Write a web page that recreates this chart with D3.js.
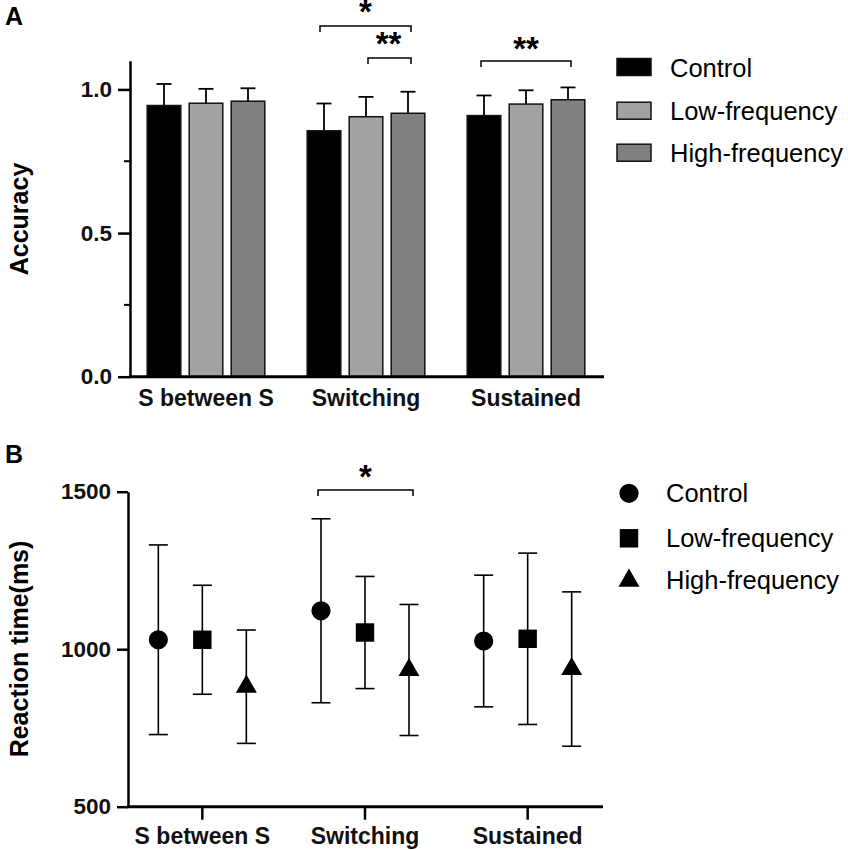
<!DOCTYPE html>
<html>
<head>
<meta charset="utf-8">
<script src="https://cdn.jsdelivr.net/npm/d3@7"></script>
<style>
  body { margin: 0; background: #fff; }
  text { font-family: Arial, "Liberation Sans", sans-serif; }
</style>
</head>
<body>
<svg id="chart"></svg>
<script>
var width = 848;
var height = 850;

var categories = ["S between S", "Switching", "Sustained"];
var groups = ["Control", "Low-frequency", "High-frequency"];

// panel A: accuracy (mean, upper SD)
var accControl = [0.944, 0.856, 0.909];
var accLow = [0.952, 0.905, 0.949];
var accHigh = [0.959, 0.917, 0.964];
var accControlSd = [0.075, 0.095, 0.070];
var accLowSd = [0.050, 0.069, 0.048];
var accHighSd = [0.045, 0.075, 0.043];
var accTicks = [0, 0.5, 1.0];
var accMinorTicks = [0.25, 0.75];

// panel B: reaction time (mean, SD)
var rtControl = [1030, 1122, 1026];
var rtLow = [1030, 1053, 1033];
var rtHigh = [881, 934, 937];
var rtControlSd = [301, 292, 209];
var rtLowSd = [173, 178, 272];
var rtHighSd = [180, 208, 245];
var rtTicks = [500, 1000, 1500];

var barColors = ["#000000", "#a2a2a5", "#808080"];
var markerTypes = [d3.symbolCircle, d3.symbolSquare, d3.symbolTriangle];

var svg = d3.select("#chart")
    .attr("width", width)
    .attr("height", height)
    .attr("xmlns", "http://www.w3.org/2000/svg");

// ---------- panel A ----------
var accMeans = [accControl, accLow, accHigh];
var accSds = [accControlSd, accLowSd, accHighSd];
var barData = [];
groups.forEach(function (g, gi) {
    categories.forEach(function (c, ci) {
        barData.push({cat: c, group: g, gi: gi, mean: accMeans[gi][ci], sd: accSds[gi][ci]});
    });
});

var xA = d3.scaleBand().domain(categories).range([126, 606]);
var xSubA = d3.scaleBand().domain(groups).range([-58.8, 58.8]).paddingInner(0.2);
var yA = d3.scaleLinear().domain([0, 1.1]).range([376.7, 60.7]);

var gA = svg.append("g");

function barX(d) {
    return xA(d.cat) + xA.bandwidth() / 2 + xSubA(d.group);
}
function barCx(d) {
    return barX(d) + xSubA.bandwidth() / 2;
}

// error bars (upper only)
gA.selectAll(".errA")
    .data(barData)
    .enter()
    .append("line")
    .attr("x1", barCx)
    .attr("x2", barCx)
    .attr("y1", function (d) { return yA(d.mean); })
    .attr("y2", function (d) { return yA(d.mean + d.sd); })
    .attr("stroke", "#000")
    .attr("stroke-width", 1.8);
gA.selectAll(".capA")
    .data(barData)
    .enter()
    .append("line")
    .attr("x1", function (d) { return barCx(d) - 7.5; })
    .attr("x2", function (d) { return barCx(d) + 7.5; })
    .attr("y1", function (d) { return yA(d.mean + d.sd); })
    .attr("y2", function (d) { return yA(d.mean + d.sd); })
    .attr("stroke", "#000")
    .attr("stroke-width", 1.8);

gA.selectAll(".bar")
    .data(barData)
    .enter()
    .append("rect")
    .attr("x", barX)
    .attr("y", function (d) { return yA(d.mean); })
    .attr("width", xSubA.bandwidth())
    .attr("height", function (d) { return yA(0) - yA(d.mean); })
    .attr("fill", function (d) { return barColors[d.gi]; })
    .attr("stroke", "#111")
    .attr("stroke-width", 1.5);

// y axis A
var yAxisA = gA.append("g")
    .attr("transform", "translate(130,0)")
    .call(d3.axisLeft(yA).tickValues(accTicks).tickFormat(d3.format(".1f")).tickSize(12).tickSizeOuter(0).tickPadding(6));
yAxisA.select(".domain").attr("stroke-width", 2.5);
yAxisA.selectAll(".tick line").attr("stroke-width", 2.5);
yAxisA.selectAll("text")
    .style("font-size", "22.5px")
    .style("font-weight", "bold")
    .attr("fill", "#111");
gA.selectAll(".minorA")
    .data(accMinorTicks)
    .enter()
    .append("line")
    .attr("x1", 124)
    .attr("x2", 130)
    .attr("y1", function (d) { return yA(d); })
    .attr("y2", function (d) { return yA(d); })
    .attr("stroke", "#000")
    .attr("stroke-width", 2);

// x axis A
gA.append("line")
    .attr("x1", 129).attr("x2", 604)
    .attr("y1", yA(0)).attr("y2", yA(0))
    .attr("stroke", "#000").attr("stroke-width", 3);
var xAxisA = gA.append("g")
    .attr("transform", "translate(0," + yA(0) + ")")
    .call(d3.axisBottom(xA).tickSize(0));
xAxisA.select(".domain").remove();
xAxisA.selectAll("text")
    .attr("y", 29).attr("dy", 0)
    .style("font-size", "23px")
    .style("font-weight", "bold")
    .attr("fill", "#111");

gA.append("text")
    .attr("transform", "translate(28,219) rotate(-90)")
    .attr("text-anchor", "middle")
    .style("font-size", "25px")
    .style("font-weight", "bold")
    .text("Accuracy");

gA.append("text")
    .attr("x", 5).attr("y", 25)
    .style("font-size", "25px")
    .style("font-weight", "bold")
    .text("A");

// significance brackets A
function cxOf(cat, group) {
    return xA(cat) + xA.bandwidth() / 2 + xSubA(group) + xSubA.bandwidth() / 2;
}
var bracketsA = [
    {x1: cxOf("Switching", "Control") - 4, x2: cxOf("Switching", "High-frequency") + 3, y: 26, label: "*", ly: 23},
    {x1: cxOf("Switching", "Low-frequency") + 2, x2: cxOf("Switching", "High-frequency") + 3, y: 58, label: "**", ly: 55},
    {x1: cxOf("Sustained", "Control") - 3, x2: cxOf("Sustained", "High-frequency") + 3, y: 61, label: "**", ly: 60}
];
bracketsA.forEach(function (b, i) {
    gA.append("path")
        .attr("d", "M" + b.x1 + "," + (b.y + 6) + "V" + b.y + "H" + b.x2 + "V" + (b.y + 6))
        .attr("fill", "none")
        .attr("stroke", "#000")
        .attr("stroke-width", 1.5);
    var lx = i == 1 ? (b.x1 + b.x2) / 2 - 1 : (b.x1 + b.x2) / 2;
    gA.append("text")
        .attr("x", lx)
        .attr("y", b.ly)
        .attr("text-anchor", "middle")
        .style("font-size", "33px")
        .style("font-weight", "bold")
        .text(b.label);
});

// legend A
var legA = gA.selectAll(".legA")
    .data(groups)
    .enter()
    .append("g")
    .attr("transform", function (d, i) { return "translate(617," + [67, 110.7, 152.7][i] + ")"; });
legA.append("rect")
    .attr("x", 0).attr("y", -8.5)
    .attr("width", 34).attr("height", 17)
    .attr("fill", function (d, i) { return barColors[i]; })
    .attr("stroke", "#111")
    .attr("stroke-width", 1.5);
legA.append("text")
    .attr("x", 53).attr("y", 9.5)
    .style("font-size", "25.5px")
    .text(function (d) { return d; });

// ---------- panel B ----------
var rtMeans = [rtControl, rtLow, rtHigh];
var rtSds = [rtControlSd, rtLowSd, rtHighSd];
var ptData = [];
groups.forEach(function (g, gi) {
    categories.forEach(function (c, ci) {
        ptData.push({cat: c, group: g, gi: gi, mean: rtMeans[gi][ci], sd: rtSds[gi][ci]});
    });
});

var xB = d3.scaleBand().domain(categories).range([121, 609]);
var xSubB = d3.scalePoint().domain(groups).range([-44, 44]);
var yB = d3.scaleLinear().domain([500, 1500]).range([806.7, 491.7]);

var gB = svg.append("g");

function ptX(d) {
    return xB(d.cat) + xB.bandwidth() / 2 + xSubB(d.group);
}

gB.selectAll(".errB")
    .data(ptData)
    .enter()
    .append("line")
    .attr("x1", ptX).attr("x2", ptX)
    .attr("y1", function (d) { return yB(d.mean - d.sd); })
    .attr("y2", function (d) { return yB(d.mean + d.sd); })
    .attr("stroke", "#000")
    .attr("stroke-width", 1.6);
[-1, 1].forEach(function (s) {
    gB.selectAll(".capB" + s)
        .data(ptData)
        .enter()
        .append("line")
        .attr("x1", function (d) { return ptX(d) - 9.5; })
        .attr("x2", function (d) { return ptX(d) + 9.5; })
        .attr("y1", function (d) { return yB(d.mean + s * d.sd); })
        .attr("y2", function (d) { return yB(d.mean + s * d.sd); })
        .attr("stroke", "#000")
        .attr("stroke-width", 1.6);
});

var symSizes = [290, 340, 190];
gB.selectAll(".pt")
    .data(ptData)
    .enter()
    .append("path")
    .attr("transform", function (d) { return "translate(" + ptX(d) + "," + yB(d.mean) + ")"; })
    .attr("d", function (d) { return d3.symbol().type(markerTypes[d.gi]).size(symSizes[d.gi])(); })
    .attr("fill", "#000");

var yAxisB = gB.append("g")
    .attr("transform", "translate(128,0)")
    .call(d3.axisLeft(yB).tickValues(rtTicks).tickFormat(d3.format("d")).tickSize(11).tickSizeOuter(0).tickPadding(6));
yAxisB.select(".domain").attr("stroke-width", 2.5);
yAxisB.selectAll(".tick line").attr("stroke-width", 2.5);
yAxisB.selectAll("text")
    .style("font-size", "22.5px")
    .style("font-weight", "bold")
    .attr("fill", "#111");

gB.append("line")
    .attr("x1", 127).attr("x2", 603)
    .attr("y1", yB(500)).attr("y2", yB(500))
    .attr("stroke", "#000").attr("stroke-width", 3);
var xAxisB = gB.append("g")
    .attr("transform", "translate(0," + yB(500) + ")")
    .call(d3.axisBottom(xB).tickSize(13));
xAxisB.select(".domain").remove();
xAxisB.selectAll(".tick line").attr("stroke-width", 2.5);
xAxisB.selectAll("text")
    .attr("y", 37).attr("dy", 0)
    .style("font-size", "23px")
    .style("font-weight", "bold")
    .attr("fill", "#111");

gB.append("text")
    .attr("transform", "translate(28,649) rotate(-90)")
    .attr("text-anchor", "middle")
    .style("font-size", "25px")
    .style("font-weight", "bold")
    .text("Reaction time(ms)");

gB.append("text")
    .attr("x", 5).attr("y", 463)
    .style("font-size", "25px")
    .style("font-weight", "bold")
    .text("B");

// bracket B
var bx1 = xB("Switching") + xB.bandwidth() / 2 + xSubB("Control") - 3;
var bx2 = xB("Switching") + xB.bandwidth() / 2 + xSubB("High-frequency") + 4;
gB.append("path")
    .attr("d", "M" + bx1 + ",496V490H" + bx2 + "V496")
    .attr("fill", "none")
    .attr("stroke", "#000")
    .attr("stroke-width", 1.5);
gB.append("text")
    .attr("x", (bx1 + bx2) / 2)
    .attr("y", 488)
    .attr("text-anchor", "middle")
    .style("font-size", "33px")
    .style("font-weight", "bold")
    .text("*");

// legend B
var legB = gB.selectAll(".legB")
    .data(groups)
    .enter()
    .append("g")
    .attr("transform", function (d, i) { return "translate(629," + [493.3, 538.3, 580.7][i] + ")"; });
legB.append("path")
    .attr("d", function (d, i) { return d3.symbol().type(markerTypes[i]).size(symSizes[i])(); })
    .attr("fill", "#000");
legB.append("text")
    .attr("x", 37).attr("y", 8.5)
    .style("font-size", "25.5px")
    .text(function (d) { return d; });
</script>
</body>
</html>
